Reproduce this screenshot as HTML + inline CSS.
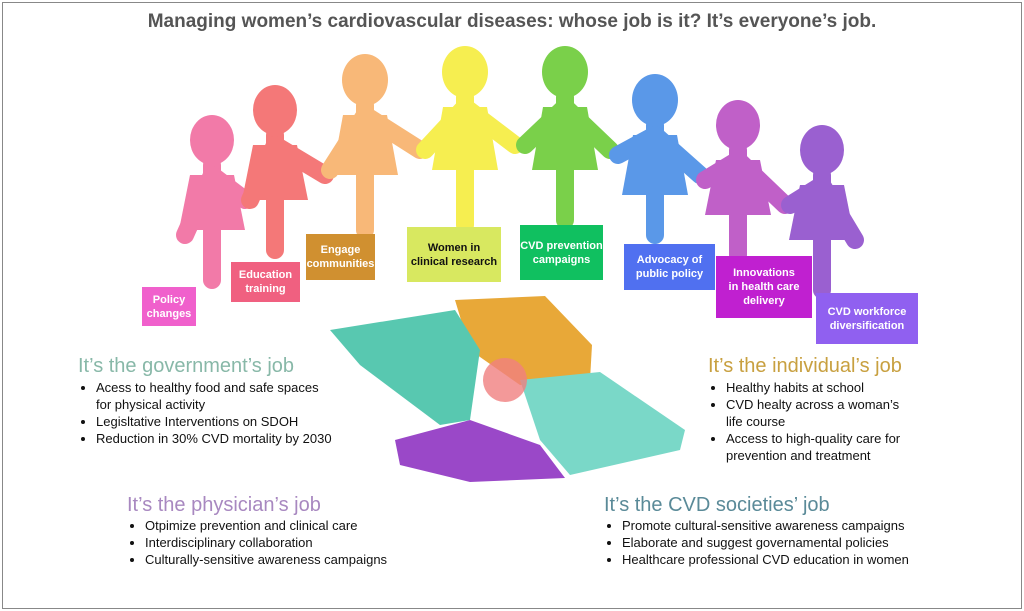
<!DOCTYPE html><html><head><style>
body{margin:0;width:1024px;height:611px;background:#fff;position:relative;overflow:hidden;font-family:"Liberation Sans",sans-serif}
.frame{position:absolute;left:2px;top:2px;width:1018px;height:605px;border:1px solid #888}
.t{position:absolute;left:0;width:1024px;text-align:center;top:11px;font-size:19px;font-weight:bold;color:#555}
.b{position:absolute;color:#fff;font-size:11px;font-weight:bold;text-align:center;display:flex;align-items:center;justify-content:center;line-height:14px;font-family:"Liberation Sans Narrow","Liberation Sans",sans-serif}
.h{position:absolute;font-size:20px;white-space:nowrap}
ul{position:absolute;margin:0;padding:0 0 0 18px;font-size:13px;line-height:17px;color:#111}
</style></head><body>
<div class="frame"></div>
<div class="t">Managing women’s cardiovascular diseases: whose job is it? It’s everyone’s job.</div>
<svg width="1024" height="611" style="position:absolute;left:0;top:0">
<g stroke-linecap="round" fill="none" stroke-width="18">
<g stroke="#f27aa8"><line x1="212" y1="165" x2="212" y2="280"/><line x1="212" y1="175" x2="185" y2="235"/><line x1="212" y1="175" x2="245" y2="200"/></g>
<g stroke="#f47878"><line x1="275" y1="135" x2="275" y2="250"/><line x1="275" y1="145" x2="250" y2="200"/><line x1="275" y1="145" x2="325" y2="175"/></g>
<g stroke="#f8b878"><line x1="365" y1="105" x2="365" y2="230"/><line x1="365" y1="115" x2="330" y2="170"/><line x1="365" y1="115" x2="420" y2="150"/></g>
<g stroke="#f6ee50"><line x1="465" y1="97" x2="465" y2="225"/><line x1="465" y1="107" x2="425" y2="150"/><line x1="465" y1="107" x2="515" y2="145"/></g>
<g stroke="#7ad04a"><line x1="565" y1="97" x2="565" y2="220"/><line x1="565" y1="107" x2="525" y2="145"/><line x1="565" y1="107" x2="610" y2="150"/></g>
<g stroke="#5a98e8"><line x1="655" y1="125" x2="655" y2="235"/><line x1="655" y1="135" x2="618" y2="155"/><line x1="655" y1="135" x2="700" y2="175"/></g>
<g stroke="#c060c8"><line x1="738" y1="150" x2="738" y2="255"/><line x1="738" y1="160" x2="705" y2="180"/><line x1="738" y1="160" x2="785" y2="205"/></g>
<g stroke="#9a60d0"><line x1="822" y1="175" x2="822" y2="290"/><line x1="822" y1="185" x2="790" y2="205"/><line x1="822" y1="185" x2="855" y2="240"/></g>
</g>
<ellipse cx="212" cy="140" rx="22" ry="25" fill="#f27aa8"/><path d="M190 175 L234 175 L245 230 L179 230Z" fill="#f27aa8"/>
<ellipse cx="275" cy="110" rx="22" ry="25" fill="#f47878"/><path d="M253 145 L297 145 L308 200 L242 200Z" fill="#f47878"/>
<ellipse cx="365" cy="80" rx="23" ry="26" fill="#f8b878"/><path d="M343 115 L387 115 L398 175 L332 175Z" fill="#f8b878"/>
<ellipse cx="465" cy="72" rx="23" ry="26" fill="#f6ee50"/><path d="M443 107 L487 107 L498 170 L432 170Z" fill="#f6ee50"/>
<ellipse cx="565" cy="72" rx="23" ry="26" fill="#7ad04a"/><path d="M543 107 L587 107 L598 170 L532 170Z" fill="#7ad04a"/>
<ellipse cx="655" cy="100" rx="23" ry="26" fill="#5a98e8"/><path d="M633 135 L677 135 L688 195 L622 195Z" fill="#5a98e8"/>
<ellipse cx="738" cy="125" rx="22" ry="25" fill="#c060c8"/><path d="M716 160 L760 160 L771 215 L705 215Z" fill="#c060c8"/>
<ellipse cx="822" cy="150" rx="22" ry="25" fill="#9a60d0"/><path d="M800 185 L844 185 L855 240 L789 240Z" fill="#9a60d0"/>
<polygon points="455,300 545,296 592,345 590,380 520,385 470,350" fill="#e8a838"/>
<polygon points="330,330 455,310 480,350 470,420 440,425 360,365" fill="#58c8b0"/>
<polygon points="520,380 600,372 685,430 680,450 570,475 540,440" fill="#7ad8c8"/>
<polygon points="395,440 470,420 540,445 565,478 470,482 400,465" fill="#9a48c8"/>
<circle cx="505" cy="380" r="22" fill="#f08080" opacity=".8"/>
</svg>
<div class="b" style="left:142px;top:287px;width:54px;height:39px;background:#f060cc">Policy<br>changes</div>
<div class="b" style="left:231px;top:262px;width:69px;height:40px;background:#f06080">Education<br>training</div>
<div class="b" style="left:306px;top:234px;width:69px;height:46px;background:#d09030">Engage<br>communities</div>
<div class="b" style="left:407px;top:227px;width:94px;height:55px;background:#d8e860;color:#111">Women in<br>clinical research</div>
<div class="b" style="left:520px;top:225px;width:83px;height:55px;background:#10c060">CVD prevention<br>campaigns</div>
<div class="b" style="left:624px;top:244px;width:91px;height:46px;background:#5070f0">Advocacy of<br>public policy</div>
<div class="b" style="left:716px;top:256px;width:96px;height:62px;background:#c020d0">Innovations<br>in health care<br>delivery</div>
<div class="b" style="left:816px;top:293px;width:102px;height:51px;background:#9060f0">CVD workforce<br>diversification</div>
<div class="h" style="left:78px;top:355px;color:#88b8a8">It’s the government’s job</div>
<ul style="left:78px;top:379px"><li>Acess to healthy food and safe spaces<br>for physical activity</li><li>Legisltative Interventions on SDOH</li><li>Reduction in 30% CVD mortality by 2030</li></ul>
<div class="h" style="left:708px;top:355px;color:#c8a040">It’s the individual’s job</div>
<ul style="left:708px;top:379px"><li>Healthy habits at school</li><li>CVD healty across a woman’s<br>life course</li><li>Access to high-quality care for<br>prevention and treatment</li></ul>
<div class="h" style="left:127px;top:494px;color:#a888c0">It’s the physician’s job</div>
<ul style="left:127px;top:517px"><li>Otpimize prevention and clinical care</li><li>Interdisciplinary collaboration</li><li>Culturally-sensitive awareness campaigns</li></ul>
<div class="h" style="left:604px;top:494px;color:#5a8a98">It’s the CVD societies’ job</div>
<ul style="left:604px;top:517px"><li>Promote cultural-sensitive awareness campaigns</li><li>Elaborate and suggest governamental policies</li><li>Healthcare professional CVD education in women</li></ul>
</body></html>
